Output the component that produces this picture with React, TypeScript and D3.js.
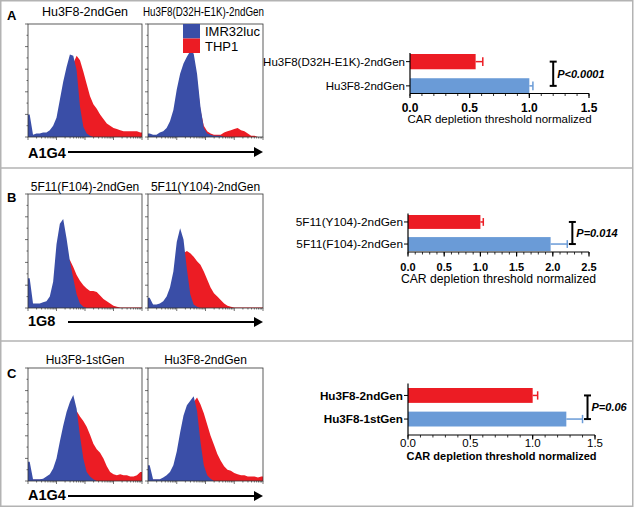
import * as d3 from "d3";

// flow histograms, % of max per bin (34 log-spaced bins across 4 decades)
const histBlueA1 = [20, 2, 3, 3, 4, 4, 6, 10, 17, 33, 49, 62, 73, 72, 59, 27, 9, 3, 1, 0, 0, 0, 0, 0, 0, 0, 0, 0, 0, 0, 0, 0, 0, 0];
const histRedA1 = [1, 1, 1, 1, 1, 1, 2, 3, 6, 12, 22, 35, 50, 65, 72, 68, 58, 47, 36, 29, 25, 20, 16, 12, 10, 8, 7, 6, 5, 5, 5, 5, 5, 4];
const histBlueA2 = [3, 2, 2, 4, 5, 8, 14, 24, 42, 56, 65, 71, 76, 74, 56, 27, 8, 3, 2, 1, 1, 1, 0, 0, 0, 0, 0, 0, 0, 0, 0, 0, 0, 0];
const histRedA2 = [1, 1, 1, 2, 3, 5, 9, 16, 30, 45, 55, 62, 66, 64, 50, 24, 10, 5, 3, 2, 2, 2, 4, 5, 6, 7, 8, 6, 5, 3, 1, 1, 0, 0];
const histBlueB1 = [26, 4, 4, 4, 5, 6, 10, 23, 56, 74, 78, 61, 41, 26, 12, 4, 1, 0, 0, 0, 0, 0, 0, 0, 0, 0, 0, 0, 0, 0, 0, 0, 0, 0];
const histRedB1 = [1, 1, 1, 1, 1, 1, 2, 4, 10, 20, 35, 44, 42, 36, 29, 24, 20, 17, 15, 15, 14, 11, 8, 6, 4, 2, 1, 0.5, 0.5, 0.5, 0.5, 0.5, 0.5, 0.5];
const histBlueB2 = [9, 3, 3, 4, 6, 10, 18, 32, 58, 70, 60, 34, 12, 3, 1, 0, 0, 0, 0, 0, 0, 0, 0, 0, 0, 0, 0, 0, 0, 0, 0, 0, 0, 0];
const histRedB2 = [1, 1, 1, 1, 2, 3, 5, 10, 20, 35, 48, 50, 48, 45, 41, 38, 32, 25, 18, 13, 10, 7, 4, 2, 1, 0.5, 0.5, 0.5, 0.5, 0.5, 0.5, 0.5, 0.5, 0.5];
const histBlueC1 = [17, 1.5, 1.5, 1.5, 2, 4, 6, 11, 20, 35, 49, 61, 70, 76, 64, 40, 20, 8, 4, 1.5, 0, 0, 0, 0, 0, 0, 0, 0, 0, 0, 0, 0, 0, 0];
const histRedC1 = [1, 1, 1, 1, 1, 2, 3, 5, 9, 16, 25, 35, 45, 55, 62, 57, 53, 48, 41, 33, 28, 25, 20, 13, 8, 6, 5, 6, 5, 5, 4, 4, 5, 8];
const histBlueC2 = [14, 1.5, 1.5, 1.5, 3, 5, 8, 14, 26, 43, 58, 67, 71, 75, 62, 35, 14, 5, 2, 0, 0, 0, 0, 0, 0, 0, 0, 0, 0, 0, 0, 0, 0, 0];
const histRedC2 = [1, 1, 1, 1, 2, 3, 5, 9, 16, 28, 40, 52, 62, 70, 74, 68, 60, 50, 40, 32, 24, 18, 13, 10, 9, 7, 6, 5, 5, 4, 4, 4, 3, 4];

const panelLetters = ["A", "B", "C"];
const histTitlesLeft = ["Hu3F8-2ndGen", "5F11(F104)-2ndGen", "Hu3F8-1stGen"];
const histTitlesRight = ["Hu3F8(D32H-E1K)-2ndGen", "5F11(Y104)-2ndGen", "Hu3F8-2ndGen"];
const markerLabels = ["A1G4", "1G8", "A1G4"];
const legendLabels = ["IMR32luc", "THP1"];

// bar charts
const barLabelsA = ["Hu3F8(D32H-E1K)-2ndGen", "Hu3F8-2ndGen"];
const barValuesA = [0.55, 1.0];
const barErrorsA = [0.06, 0.03];
const barLabelsB = ["5F11(Y104)-2ndGen", "5F11(F104)-2ndGen"];
const barValuesB = [1.0, 1.97];
const barErrorsB = [0.04, 0.23];
const barLabelsC = ["Hu3F8-2ndGen", "Hu3F8-1stGen"];
const barValuesC = [1.0, 1.27];
const barErrorsC = [0.04, 0.13];
const axisMax = [1.5, 2.5, 1.5];
const pLabels = ["P<0.0001", "P=0.014", "P=0.06"];
const bracketAt = [1.2, 2.27, 1.44];
const axisTitle = "CAR depletion threshold normalized";

const histBlue = "#3a4ea7";
const histRed = "#ec1c24";
const barRed = "#ec1c24";
const barBlue = "#6a9bd7";
const font = "'Liberation Sans', Arial, sans-serif";

const layout = [
  { top: 24, bottom: 137, titleY: 16, letterY: 20, arrowY: 152, markerY: 158,
    ax0: 410, ax1: 589, axisY: 93.5, yTop: 53, band: [54, 93.5], tickY: 111.5, axisTitleY: 123,
    tickSize: 12, tickWeight: "bold", catSize: 11.5, catWeight: "normal", atSize: 11.5, atWeight: "normal" },
  { top: 194, bottom: 308, titleY: 191, letterY: 202, arrowY: 322, markerY: 326,
    ax0: 408, ax1: 589, axisY: 252, yTop: 213.5, band: [215, 251], tickY: 270.5, axisTitleY: 283,
    tickSize: 11, tickWeight: "bold", catSize: 11.8, catWeight: "normal", atSize: 12.2, atWeight: "normal" },
  { top: 368, bottom: 481, titleY: 364, letterY: 378, arrowY: 496, markerY: 500,
    ax0: 408, ax1: 595, axisY: 435, yTop: 383.5, band: [388, 426.5], tickY: 447, axisTitleY: 460,
    tickSize: 11.5, tickWeight: "normal", catSize: 11.7, catWeight: "bold", atSize: 11, atWeight: "bold" },
];

const hists = [
  [[histBlueA1, histRedA1], [histBlueA2, histRedA2]],
  [[histBlueB1, histRedB1], [histBlueB2, histRedB2]],
  [[histBlueC1, histRedC1], [histBlueC2, histRedC2]],
];
const bars = [
  [barLabelsA, barValuesA, barErrorsA],
  [barLabelsB, barValuesB, barErrorsB],
  [barLabelsC, barValuesC, barErrorsC],
];

const boxX = [[28, 142], [148, 263]];

function Histogram({ x0, x1, y0, y1, blue, red }) {
  const n = blue.length;
  const x = d3.scaleLinear().domain([0, n]).range([x0, x1]);
  const y = d3.scaleLinear().domain([0, 100]).range([y1, y0]);
  const pts = (arr) => [[0, arr[0]], ...arr.map((v, i) => [i + 0.5, v]), [n, arr[n - 1]]];
  const area = d3.area().x((d) => x(d[0])).y0(y1).y1((d) => y(d[1]));
  const log = d3.scaleLog().domain([1, 1e4]).range([x0, x1]);
  const logTicks = log.ticks();
  const leftTicks = d3.range(0, 101, 10);
  return (
    <g>
      <path d={area(pts(red))} fill={histRed} />
      <path d={area(pts(blue))} fill={histBlue} />
      <rect x={x0} y={y0} width={x1 - x0} height={y1 - y0} fill="none" stroke="#333" strokeWidth={0.8} />
      {leftTicks.map((t) => (
        <line key={"l" + t} x1={x0 - (t % 20 === 0 ? 3 : 1.5)} x2={x0} y1={y(t)} y2={y(t)} stroke="#333" strokeWidth={0.7} />
      ))}
      {logTicks.map((t, i) => {
        const major = Math.abs(Math.log10(t) - Math.round(Math.log10(t))) < 1e-9;
        return <line key={"b" + i} x1={log(t)} x2={log(t)} y1={y1} y2={y1 + (major ? 3 : 1.5)} stroke="#333" strokeWidth={0.7} />;
      })}
    </g>
  );
}

function BarPanel({ idx }) {
  const L = layout[idx];
  const [labels, values, errors] = bars[idx];
  const x = d3.scaleLinear().domain([0, axisMax[idx]]).range([L.ax0, L.ax1]);
  const y = d3.scaleBand().domain(labels).range(L.band).paddingInner(0.37);
  const bw = y.bandwidth();
  const minor = d3.range(0, axisMax[idx] + 1e-9, 0.1);
  const major = d3.range(0, axisMax[idx] + 1e-9, 0.5);
  const colors = [barRed, barBlue];
  const fmt = d3.format(".1f");
  const bx = x(bracketAt[idx]);
  const c0 = y(labels[0]) + bw / 2;
  const c1 = y(labels[1]) + bw / 2;
  return (
    <g fontFamily={font}>
      {labels.map((lab, i) => {
        const cy = y(lab) + bw / 2;
        const xe = x(values[i] + errors[i]);
        return (
          <g key={lab}>
            <rect x={x(0)} y={y(lab)} width={x(values[i]) - x(0)} height={bw} fill={colors[i]} />
            <line x1={x(values[i])} x2={xe} y1={cy} y2={cy} stroke={colors[i]} strokeWidth={1.5} />
            <line x1={xe} x2={xe} y1={cy - bw * 0.28} y2={cy + bw * 0.28} stroke={colors[i]} strokeWidth={1.5} />
            <line x1={L.ax0 - 4} x2={L.ax0} y1={cy} y2={cy} stroke="#000" strokeWidth={1} />
            <text x={L.ax0 - 5} y={cy} dy="0.35em" textAnchor="end" fontSize={L.catSize} fontWeight={L.catWeight}>{lab}</text>
          </g>
        );
      })}
      <line x1={L.ax0} x2={L.ax0} y1={L.yTop} y2={L.axisY} stroke="#000" strokeWidth={1.2} />
      <line x1={L.ax0} x2={L.ax1} y1={L.axisY} y2={L.axisY} stroke="#000" strokeWidth={1.2} />
      {minor.map((t, i) => (
        <line key={"m" + i} x1={x(t)} x2={x(t)} y1={L.axisY} y2={L.axisY + 2.5} stroke="#000" strokeWidth={0.8} />
      ))}
      {major.map((t, i) => (
        <g key={"M" + i}>
          <line x1={x(t)} x2={x(t)} y1={L.axisY} y2={L.axisY + 4.5} stroke="#000" strokeWidth={1.2} />
          <text x={x(t)} y={L.tickY} textAnchor="middle" fontSize={L.tickSize} fontWeight={L.tickWeight}>{fmt(t)}</text>
        </g>
      ))}
      <text x={(L.ax0 + L.ax1) / 2} y={L.axisTitleY} textAnchor="middle" fontSize={L.atSize} fontWeight={L.atWeight}>{axisTitle}</text>
      <line x1={bx} x2={bx} y1={c0} y2={c1} stroke="#000" strokeWidth={2} />
      <line x1={bx - 3.5} x2={bx + 3.5} y1={c0} y2={c0} stroke="#000" strokeWidth={2} />
      <line x1={bx - 3.5} x2={bx + 3.5} y1={c1} y2={c1} stroke="#000" strokeWidth={2} />
      <text x={bx + 4} y={(c0 + c1) / 2} dy="0.35em" fontSize={11} fontStyle="italic" fontWeight="bold">{pLabels[idx]}</text>
    </g>
  );
}

function App() {
  return (
    <svg width={634} height={508} style={{ position: "absolute", left: 0, top: 0, background: "#fff" }}>
      <rect x={0.75} y={0.75} width={632} height={505.5} fill="#fff" stroke="#b3b3b3" strokeWidth={1.5} />
      <line x1={0} x2={633} y1={168} y2={168} stroke="#b3b3b3" strokeWidth={1.5} />
      <line x1={0} x2={633} y1={341} y2={341} stroke="#b3b3b3" strokeWidth={1.5} />
      {layout.map((L, p) => (
        <g key={p} fontFamily={font}>
          <text x={7} y={L.letterY} fontSize={13} fontWeight="bold">{panelLetters[p]}</text>
          {boxX.map(([x0, x1], k) => (
            <g key={k}>
              <Histogram x0={x0} x1={x1} y0={L.top} y1={L.bottom} blue={hists[p][k][0]} red={hists[p][k][1]} />
              {p === 0 && k === 1 ? (
                <text x={(x0 + x1) / 2 - 2} y={L.titleY} textAnchor="middle" fontSize={12} textLength={121} lengthAdjust="spacingAndGlyphs">
                  {histTitlesRight[p]}
                </text>
              ) : (
                <text x={(x0 + x1) / 2} y={L.titleY} textAnchor="middle" fontSize={p === 0 ? 12.5 : 12}>
                  {k === 0 ? histTitlesLeft[p] : histTitlesRight[p]}
                </text>
              )}
            </g>
          ))}
          <text x={28} y={L.markerY} fontSize={14.5} fontWeight="bold">{markerLabels[p]}</text>
          <line x1={68} x2={255} y1={L.arrowY} y2={L.arrowY} stroke="#000" strokeWidth={2} />
          <polygon points={`254,${L.arrowY - 5} 263,${L.arrowY} 254,${L.arrowY + 5}`} fill="#000" />
          <BarPanel idx={p} />
        </g>
      ))}
      <g fontFamily={font}>
        {legendLabels.map((lab, i) => (
          <g key={lab}>
            <rect x={183} y={24 + i * 14.5} width={17} height={14.5} fill={i === 0 ? histBlue : histRed} />
            <text x={205} y={36 + i * 14.5} fontSize={13}>{lab}</text>
          </g>
        ))}
      </g>
    </svg>
  );
}

export default App;
